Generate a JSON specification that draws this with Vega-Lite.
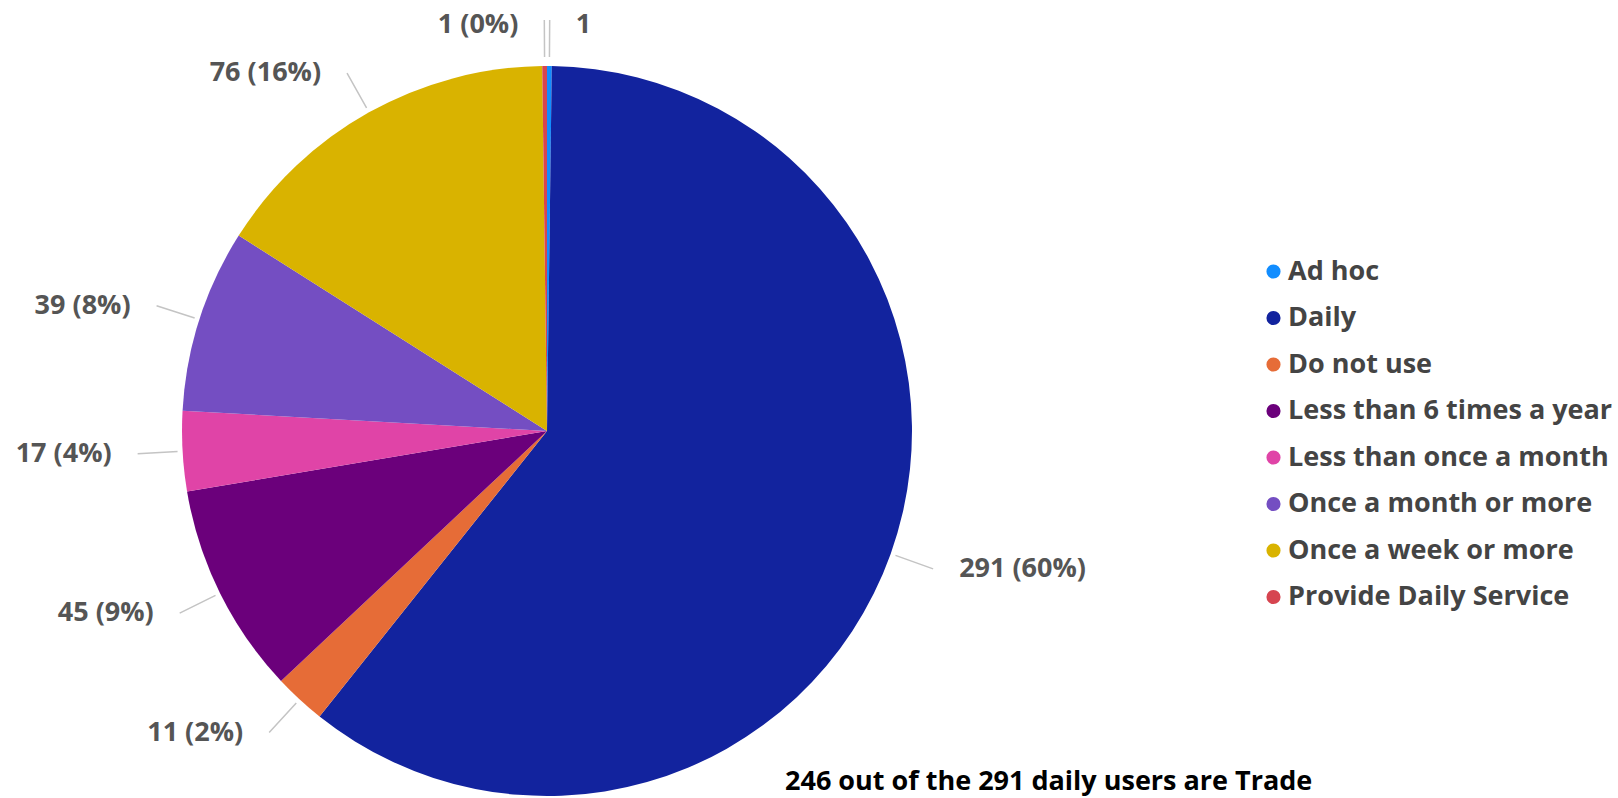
{
  "$schema": "https://vega.github.io/schema/vega-lite/v6.json",
  "autosize": {"type": "none"},
  "padding": {"left": 0, "top": 64, "right": 524, "bottom": 0},
  "width": 1094,
  "height": 734,
  "background": "#ffffff",
  "config": {"font": "Open Sans", "view": {"stroke": null}},
  "title": {
    "text": "246 out of the 291 daily users are Trade",
    "orient": "bottom",
    "anchor": "start",
    "frame": "group",
    "dx": 785,
    "offset": -8,
    "baseline": "alphabetic",
    "font": "Open Sans",
    "fontSize": 27,
    "fontWeight": "bold",
    "color": "#000000"
  },
  "data": {
    "values": [
      {"category": "Ad hoc", "value": 1, "label": "1"},
      {"category": "Daily", "value": 291, "label": "291 (60%)"},
      {"category": "Do not use", "value": 11, "label": "11 (2%)"},
      {"category": "Less than 6 times a year", "value": 45, "label": "45 (9%)"},
      {"category": "Less than once a month", "value": 17, "label": "17 (4%)"},
      {"category": "Once a month or more", "value": 39, "label": "39 (8%)"},
      {"category": "Once a week or more", "value": 76, "label": "76 (16%)"},
      {"category": "Provide Daily Service", "value": 1, "label": "1 (0%)"}
    ]
  },
  "layer": [
    {
      "mark": {"type": "arc", "radius": 365},
      "encoding": {
        "theta": {"field": "value", "type": "quantitative", "stack": true},
        "order": {"field": "category", "type": "ordinal", "sort": "ascending"},
        "color": {
          "field": "category",
          "type": "nominal",
          "scale": {
            "domain": ["Ad hoc", "Daily", "Do not use", "Less than 6 times a year", "Less than once a month", "Once a month or more", "Once a week or more", "Provide Daily Service"],
            "range": ["#118DFF", "#12239E", "#E66C37", "#6B007B", "#E044A7", "#744EC2", "#D9B300", "#D64550"]
          },
          "legend": {
            "orient": "none",
            "legendX": 1260,
            "legendY": 194,
            "title": null,
            "padding": 0,
            "symbolType": "circle",
            "symbolSize": 200,
            "symbolStrokeWidth": 0,
            "labelFont": "Open Sans",
            "labelFontSize": 27,
            "labelFontWeight": "bold",
            "labelColor": "#444444",
            "labelLimit": 600,
            "labelOffset": 1,
            "rowPadding": 18.5
          }
        }
      }
    },
    {
      "transform": [
        {"fold": ["value", "value"], "as": ["copy", "v"]},
        {"window": [{"op": "row_number", "as": "k"}], "groupby": ["category"]},
        {"stack": "v", "groupby": [], "sort": [{"field": "category"}, {"field": "k"}], "as": ["s0", "s1"]}
      ],
      "mark": {"type": "arc", "radius": 410, "radius2": 370, "filled": false, "stroke": "#c4c4c4", "strokeWidth": 1.5},
      "encoding": {
        "theta": {"field": "s1", "type": "quantitative", "stack": null, "scale": {"zero": true, "nice": false}},
        "theta2": {"field": "s1"},
        "strokeOpacity": {
          "condition": {"test": "datum.k == 1 && datum.category != 'Ad hoc' && datum.category != 'Provide Daily Service'", "value": 1},
          "value": 0
        }
      }
    },
    {
      "transform": [
        {"fold": ["value", "value"], "as": ["copy", "v"]},
        {"window": [{"op": "row_number", "as": "k"}], "groupby": ["category"]},
        {"stack": "v", "groupby": [], "sort": [{"field": "category"}, {"field": "k"}], "as": ["s0", "s1"]}
      ],
      "mark": {"type": "arc", "radius": 411, "radius2": 374, "filled": false, "stroke": "#c4c4c4", "strokeWidth": 1.5},
      "encoding": {
        "theta": {"field": "s1", "type": "quantitative", "stack": null, "scale": {"zero": true, "nice": false}},
        "theta2": {"field": "s1"},
        "strokeOpacity": {
          "condition": {"test": "datum.k == 1 && (datum.category == 'Ad hoc' || datum.category == 'Provide Daily Service')", "value": 1},
          "value": 0
        }
      }
    },
    {
      "mark": {"type": "text", "radius": 410, "align": "right", "baseline": "middle", "dx": -26, "font": "Open Sans", "fontSize": 27, "fontWeight": "bold", "color": "#555555"},
      "encoding": {
        "theta": {"field": "value", "type": "quantitative", "stack": true},
        "order": {"field": "category", "type": "ordinal", "sort": "ascending"},
        "detail": {"field": "category", "type": "nominal"},
        "text": {
          "condition": {"test": "datum.category != 'Daily' && datum.category != 'Ad hoc' && datum.category != 'Provide Daily Service'", "field": "label", "type": "nominal"},
          "value": ""
        }
      }
    },
    {
      "mark": {"type": "text", "radius": 410, "align": "left", "baseline": "middle", "dx": 26, "font": "Open Sans", "fontSize": 27, "fontWeight": "bold", "color": "#555555"},
      "encoding": {
        "theta": {"field": "value", "type": "quantitative", "stack": true},
        "order": {"field": "category", "type": "ordinal", "sort": "ascending"},
        "detail": {"field": "category", "type": "nominal"},
        "text": {
          "condition": {"test": "datum.category == 'Daily'", "field": "label", "type": "nominal"},
          "value": ""
        }
      }
    },
    {
      "mark": {"type": "text", "radius": 406, "align": "right", "baseline": "middle", "dx": -26, "font": "Open Sans", "fontSize": 27, "fontWeight": "bold", "color": "#555555"},
      "encoding": {
        "theta": {"field": "value", "type": "quantitative", "stack": true},
        "order": {"field": "category", "type": "ordinal", "sort": "ascending"},
        "detail": {"field": "category", "type": "nominal"},
        "text": {
          "condition": {"test": "datum.category == 'Provide Daily Service'", "field": "label", "type": "nominal"},
          "value": ""
        }
      }
    },
    {
      "mark": {"type": "text", "radius": 406, "align": "left", "baseline": "middle", "dx": 26, "font": "Open Sans", "fontSize": 27, "fontWeight": "bold", "color": "#555555"},
      "encoding": {
        "theta": {"field": "value", "type": "quantitative", "stack": true},
        "order": {"field": "category", "type": "ordinal", "sort": "ascending"},
        "detail": {"field": "category", "type": "nominal"},
        "text": {
          "condition": {"test": "datum.category == 'Ad hoc'", "field": "label", "type": "nominal"},
          "value": ""
        }
      }
    }
  ],
  "resolve": {"scale": {"theta": "independent"}}
}
